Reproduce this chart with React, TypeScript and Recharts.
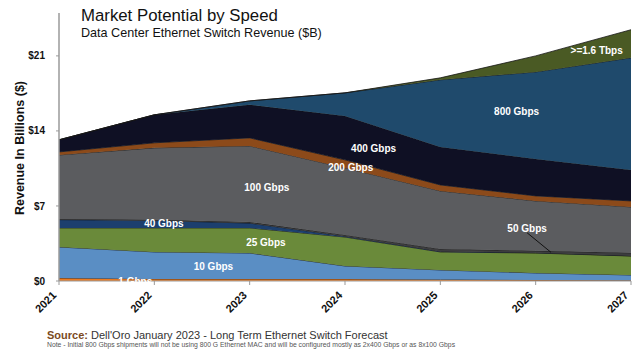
import React from 'react';
import { AreaChart, Area, XAxis, YAxis, ReferenceDot, ReferenceLine } from 'recharts';

const years = [2021, 2022, 2023, 2024, 2025, 2026, 2027];
const g1 = [0.28, 0.19, 0.19, 0.19, 0.15, 0.10, 0.08];
const g10 = [2.89, 2.52, 2.42, 1.21, 0.88, 0.65, 0.48];
const g25 = [1.78, 2.24, 2.34, 2.70, 1.68, 1.86, 1.77];
const g40 = [0.77, 0.70, 0.45, 0.08, 0.05, 0.03, 0.02];
const g50 = [0.07, 0.06, 0.10, 0.12, 0.23, 0.18, 0.28];
const g100 = [5.97, 6.71, 7.10, 6.25, 5.41, 4.65, 4.28];
const g200 = [0.28, 0.47, 0.75, 0.75, 0.56, 0.47, 0.56];
const g400 = [1.13, 2.61, 3.08, 4.10, 3.55, 3.45, 2.89];
const g800 = [0, 0, 0.37, 2.15, 6.26, 8.11, 10.46];
const t16 = [0, 0, 0, 0, 0.18, 1.5, 2.62];

const yTicks = [0, 7, 14, 21];

const series = [
  { key: 'g1', name: '1 Gbps', values: g1, color: '#ee7a1e' },
  { key: 'g10', name: '10 Gbps', values: g10, color: '#5a8ec4' },
  { key: 'g25', name: '25 Gbps', values: g25, color: '#6a8a3a' },
  { key: 'g40', name: '40 Gbps', values: g40, color: '#1c3f6e' },
  { key: 'g50', name: '50 Gbps', values: g50, color: '#3c3c3e' },
  { key: 'g100', name: '100 Gbps', values: g100, color: '#5b5c5f' },
  { key: 'g200', name: '200 Gbps', values: g200, color: '#8c4a1a' },
  { key: 'g400', name: '400 Gbps', values: g400, color: '#0f1024' },
  { key: 'g800', name: '800 Gbps', values: g800, color: '#1f4a6c' },
  { key: 't16', name: '>=1.6 Tbps', values: t16, color: '#4a5a24' },
];

const labels = [
  { text: '1 Gbps', x: 2021.8, y: 0.0 },
  { text: '10 Gbps', x: 2022.62, y: 1.4 },
  { text: '40 Gbps', x: 2022.1, y: 5.41 },
  { text: '25 Gbps', x: 2023.17, y: 3.64 },
  { text: '100 Gbps', x: 2023.18, y: 8.77 },
  { text: '200 Gbps', x: 2024.06, y: 10.63 },
  { text: '400 Gbps', x: 2024.3, y: 12.41 },
  { text: '800 Gbps', x: 2025.8, y: 15.86 },
  { text: '>=1.6 Tbps', x: 2026.64, y: 21.46 },
  { text: '50 Gbps', x: 2025.91, y: 4.94 },
];

const leader = [
  { x: 2025.91, y: 4.5 },
  { x: 2026.16, y: 2.68 },
];

const data = years.map((year, i) => {
  const row: Record<string, number> = { year };
  series.forEach((s) => {
    row[s.key] = s.values[i];
  });
  return row;
});

const FONT = '"Liberation Sans", Arial, Helvetica, sans-serif';

const XTick = (props: any) => {
  const { x, y, payload } = props;
  const ax = x - 2;
  const ay = y + 9;
  return (
    <text
      x={ax}
      y={ay}
      transform={`rotate(-45 ${ax} ${ay})`}
      textAnchor="end"
      fontSize={11}
      fontWeight={700}
      fill="#111"
      fontFamily={FONT}
    >
      {payload.value}
    </text>
  );
};

export default function App() {
  return (
    <div style={{ position: 'absolute', left: 0, top: 0, width: 640, height: 356, background: '#fff', fontFamily: FONT }}>
      <div style={{ position: 'absolute', left: 81, top: 8.2, fontSize: 16.8, lineHeight: '16.8px', color: '#111', whiteSpace: 'nowrap' }}>
        Market Potential by Speed
      </div>
      <div style={{ position: 'absolute', left: 81, top: 27, fontSize: 12.6, lineHeight: '12.6px', color: '#111', whiteSpace: 'nowrap' }}>
        Data Center Ethernet Switch Revenue ($B)
      </div>
      <div
        style={{
          position: 'absolute',
          left: 20,
          top: 147.5,
          transform: 'translate(-50%, -50%) rotate(-90deg)',
          fontSize: 12.5,
          fontWeight: 700,
          color: '#111',
          whiteSpace: 'nowrap',
          lineHeight: '14px',
        }}
      >
        Revenue In Billions ($)
      </div>
      <div style={{ position: 'absolute', left: 0, top: 0 }}>
        <AreaChart width={640} height={356} data={data} margin={{ top: 13, right: 9, bottom: 45, left: 19 }}>
          <XAxis
            dataKey="year"
            type="number"
            domain={[2021, 2027]}
            ticks={years}
            height={30}
            tickSize={4}
            axisLine={{ stroke: '#999' }}
            tickLine={{ stroke: '#999' }}
            tick={<XTick />}
            interval={0}
          />
          <YAxis
            type="number"
            domain={[0, 25]}
            ticks={yTicks}
            width={40}
            tickSize={3}
            tickMargin={11}
            axisLine={{ stroke: '#9a9a9a', strokeWidth: 1.5 }}
            tickLine={{ stroke: '#9a9a9a' }}
            tick={{ fontSize: 10, fontWeight: 700, fill: '#111', fontFamily: FONT }}
            tickFormatter={(v: number) => `$${v}`}
            allowDataOverflow
          />
          {series.map((s) => (
            <Area
              key={s.key}
              dataKey={s.key}
              name={s.name}
              stackId="a"
              type="linear"
              fill={s.color}
              fillOpacity={1}
              stroke="#151515"
              strokeWidth={0.8}
              dot={false}
              activeDot={false}
              isAnimationActive={false}
            />
          ))}
          <ReferenceLine segment={leader} stroke="#111" strokeWidth={1} ifOverflow="visible" />
          {labels.map((l) => (
            <ReferenceDot
              key={l.text}
              x={l.x}
              y={l.y}
              r={0}
              fill="none"
              stroke="none"
              ifOverflow="visible"
              label={{ value: l.text, position: 'center', fill: '#fff', fontSize: 10, fontWeight: 700, fontFamily: FONT }}
            />
          ))}
        </AreaChart>
      </div>
      <div style={{ position: 'absolute', left: 47, top: 329.7, fontSize: 11, lineHeight: '11px', color: '#333', whiteSpace: 'nowrap' }}>
        <span style={{ fontWeight: 700, color: '#7b4a1e' }}>Source:</span> Dell'Oro January 2023 - Long Term Ethernet Switch Forecast
      </div>
      <div style={{ position: 'absolute', left: 47, top: 342, fontSize: 6.8, lineHeight: '6.8px', color: '#555', whiteSpace: 'nowrap' }}>
        Note - Initial 800 Gbps shipments will not be using 800 G Ethernet MAC and will be configured mostly as 2x400 Gbps or as 8x100 Gbps
      </div>
    </div>
  );
}
